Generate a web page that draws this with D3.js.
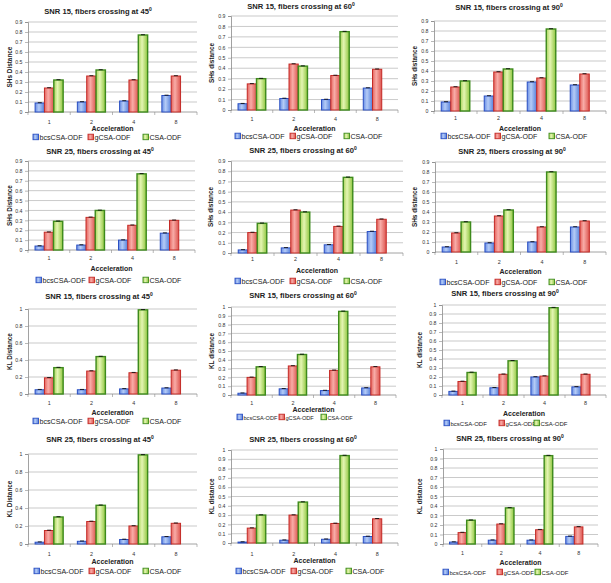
<!DOCTYPE html>
<html><head><meta charset="utf-8">
<script src="https://cdn.jsdelivr.net/npm/d3@7"></script>
<style>body{margin:0;background:#fff}svg{display:block}text{font-family:"Liberation Sans",Arial,sans-serif}</style>
</head><body>
<script>
// ---------- DATA ----------
const categories = ["1", "2", "4", "8"];
const seriesNames = ["bcsCSA-ODF", "gCSA-ODF", "CSA-ODF"];
const titleTexts = [
  "SNR 15, fibers crossing at 45", "SNR 15, fibers crossing at 60", "SNR 15, fibers crossing at 90",
  "SNR 25, fibers crossing at 45", "SNR 25, fibers crossing at 60", "SNR 25, fibers crossing at 90",
  "SNR 15, fibers crossing at 45", "SNR 15, fibers crossing at 60", "SNR 15, fibers crossing at 90",
  "SNR 25, fibers crossing at 45", "SNR 25, fibers crossing at 60", "SNR 25, fibers crossing at 90"
];
const titleSup = "0";
const yLabels = [
  "SHs Distance", "SHs distance", "SHs distance",
  "SHs Distance", "SHs distance", "SHs distance",
  "KL Distance", "KL distance", "KL distance",
  "KL Distance", "KL distance", "KL distance"
];
const xLabel = "Acceleration";
const yMaxes = [0.9, 0.9, 0.9, 0.9, 0.9, 0.9, 1, 1, 1, 1, 1, 1];
const yStepsV = [0.1, 0.1, 0.1, 0.1, 0.1, 0.1, 0.2, 0.1, 0.1, 0.2, 0.1, 0.1];
// values per panel, per acceleration (1,2,4,8)
const bcsValues = [
  [0.09, 0.10, 0.11, 0.165], [0.06, 0.11, 0.10, 0.21], [0.09, 0.15, 0.29, 0.26],
  [0.04, 0.05, 0.10, 0.17], [0.03, 0.05, 0.08, 0.21], [0.05, 0.09, 0.10, 0.25],
  [0.05, 0.05, 0.06, 0.07], [0.02, 0.07, 0.05, 0.08], [0.04, 0.08, 0.20, 0.09],
  [0.02, 0.03, 0.05, 0.08], [0.01, 0.03, 0.04, 0.07], [0.02, 0.04, 0.04, 0.08]
];
const gValues = [
  [0.24, 0.36, 0.32, 0.36], [0.25, 0.44, 0.33, 0.39], [0.24, 0.39, 0.33, 0.37],
  [0.18, 0.33, 0.25, 0.30], [0.20, 0.42, 0.26, 0.33], [0.19, 0.36, 0.25, 0.31],
  [0.19, 0.27, 0.25, 0.28], [0.20, 0.33, 0.28, 0.32], [0.15, 0.23, 0.21, 0.23],
  [0.15, 0.25, 0.20, 0.23], [0.16, 0.30, 0.21, 0.26], [0.12, 0.21, 0.15, 0.18]
];
const csaValues = [
  [0.32, 0.42, 0.77, null], [0.30, 0.42, 0.75, null], [0.30, 0.42, 0.82, null],
  [0.29, 0.40, 0.77, null], [0.29, 0.40, 0.74, null], [0.30, 0.42, 0.80, null],
  [0.31, 0.44, 0.99, null], [0.32, 0.46, 0.95, null], [0.25, 0.38, 0.97, null],
  [0.30, 0.43, 0.99, null], [0.30, 0.44, 0.94, null], [0.25, 0.38, 0.93, null]
];

// ---------- LAYOUT ----------
const layout = [
  {l:28,t:22,r:197,b:112, tx:98, ty:11, cy:122, ay:128, ly:137, ylx:10, lx:[33,88,143], lf:7.1},
  {l:231,t:16,r:398,b:110, tx:301, ty:6, cy:119, ay:128, ly:136, ylx:212, lx:[235,290,344], lf:7.1},
  {l:434,t:21,r:606,b:111, tx:509, ty:7, cy:118, ay:128, ly:136, ylx:415, lx:[441,495,549], lf:7.1},
  {l:28,t:161,r:195,b:250, tx:100, ty:151, cy:258, ay:268, ly:280, ylx:10, lx:[36,89,143], lf:7.1},
  {l:231,t:161,r:403,b:253, tx:303, ty:150, cy:259, ay:270, ly:281, ylx:211, lx:[235,290,344], lf:7.1},
  {l:435,t:162,r:606,b:252, tx:512, ty:151, cy:262, ay:271, ly:282, ylx:415, lx:[440,495,549], lf:7.1},
  {l:28,t:309,r:197,b:394, tx:99, ty:296, cy:403, ay:412, ly:421, ylx:10, lx:[33,88,143], lf:7.1},
  {l:231,t:307,r:396,b:395, tx:303, ty:295, cy:403, ay:409, ly:417, ylx:212, lx:[237,279,321], lf:5.6},
  {l:442,t:305,r:606,b:395, tx:505, ty:293, cy:403, ay:413, ly:423, ylx:420, lx:[444,499,534], lf:6},
  {l:28,t:454,r:197,b:544, tx:100, ty:439, cy:554, ay:561, ly:571, ylx:10, lx:[34,89,143], lf:7.1},
  {l:231,t:450,r:398,b:543, tx:303, ty:439, cy:554, ay:560, ly:571, ylx:212, lx:[236,291,346], lf:7.1},
  {l:443,t:449,r:598,b:544, tx:510, ty:438, cy:553, ay:562, ly:572, ylx:420, lx:[443,497,535], lf:6}
];
const fillIds = ["gBlue", "gRed", "gGreen"];
const strokes = ["#2a4fc2", "#c42a26", "#3d8a1c"];
const strokeW = [1, 1, 1.4];

const svg = d3.select("body").append("svg").attr("width", 611).attr("height", 583);
svg.append("rect").attr("width", 611).attr("height", 583).attr("fill", "#fff");
const defs = svg.append("defs");
const grads = [
  ["gBlue", ["#6a8fe6", "#b4cbf6", "#5580dc"]],
  ["gRed", ["#e5645e", "#f8aca7", "#dc544e"]],
  ["gGreen", ["#a9d45a", "#e4f5b2", "#8fc640"]]
];
grads.forEach(([id, c]) => {
  const g = defs.append("linearGradient").attr("id", id).attr("x1", 0).attr("x2", 1).attr("y1", 0).attr("y2", 0);
  g.append("stop").attr("offset", "0%").attr("stop-color", c[0]);
  g.append("stop").attr("offset", "40%").attr("stop-color", c[1]);
  g.append("stop").attr("offset", "100%").attr("stop-color", c[2]);
});

const fmt = d => String(+d.toFixed(1));

layout.forEach((L, i) => {
  const g = svg.append("g");
  const yMax = yMaxes[i], step = yStepsV[i];
  const y = d3.scaleLinear().domain([0, yMax]).range([L.b, L.t]);
  const x0 = d3.scaleBand().domain(categories).range([L.l, L.r]).padding(0);
  const x1 = d3.scaleBand().domain(seriesNames).range([0, x0.bandwidth()]).paddingInner(0).paddingOuter(0.76);
  const ticks = d3.range(0, Math.round(yMax / step) + 1).map(k => +(k * step).toFixed(2));

  // gridlines
  g.selectAll("line.grid").data(ticks.filter(d => d > 0)).enter().append("line")
    .attr("x1", L.l).attr("x2", L.r).attr("y1", d => y(d)).attr("y2", d => y(d))
    .attr("stroke", "#a6a6a6").attr("stroke-width", 0.6);

  // y axis
  const ya = g.append("g").attr("transform", `translate(${L.l},0)`)
    .call(d3.axisLeft(y).tickValues(ticks).tickFormat(fmt).tickSize(3).tickPadding(2.5));
  ya.select(".domain").attr("stroke", "#8a8a8a").attr("stroke-width", 0.8);
  ya.selectAll(".tick line").attr("stroke", "#8a8a8a").attr("stroke-width", 0.6);
  ya.selectAll("text").attr("font-size", 5.2).attr("fill", "#333").attr("font-family", "Liberation Sans, Arial, sans-serif");

  // x axis line and boundary ticks
  g.append("line").attr("x1", L.l).attr("x2", L.r).attr("y1", L.b).attr("y2", L.b)
    .attr("stroke", "#8a8a8a").attr("stroke-width", 0.8);
  const bounds = categories.map(c => x0(c)).concat([x0(categories[categories.length - 1]) + x0.bandwidth()]);
  g.selectAll("line.xt").data(bounds).enter().append("line")
    .attr("x1", d => d).attr("x2", d => d).attr("y1", L.b).attr("y2", L.b + 3)
    .attr("stroke", "#8a8a8a").attr("stroke-width", 0.6);
  g.selectAll("text.cat").data(categories).enter().append("text")
    .attr("x", d => x0(d) + x0.bandwidth() / 2).attr("y", L.cy + 2)
    .attr("text-anchor", "middle").attr("font-size", 5.4).attr("fill", "#333").text(d => d);

  // bars
  const rows = [];
  categories.forEach((c, j) => {
    [bcsValues[i][j], gValues[i][j], csaValues[i][j]].forEach((v, s) => {
      if (v !== null && v !== undefined) rows.push({c, s, v});
    });
  });
  g.selectAll("rect.bar").data(rows).enter().append("rect")
    .attr("x", d => x0(d.c) + x1(seriesNames[d.s]))
    .attr("y", d => y(d.v))
    .attr("width", x1.bandwidth())
    .attr("height", d => y(0) - y(d.v))
    .attr("fill", d => `url(#${fillIds[d.s]})`)
    .attr("stroke", d => strokes[d.s])
    .attr("stroke-width", d => strokeW[d.s]);
  // error caps
  g.selectAll("line.err").data(rows).enter().append("line")
    .attr("x1", d => x0(d.c) + x1(seriesNames[d.s]) + x1.bandwidth() / 2 - 2)
    .attr("x2", d => x0(d.c) + x1(seriesNames[d.s]) + x1.bandwidth() / 2 + 2)
    .attr("y1", d => y(d.v) - 0.3).attr("y2", d => y(d.v) - 0.3)
    .attr("stroke", "#111").attr("stroke-width", 0.9);

  // title
  const tt = g.append("text").attr("x", L.tx).attr("y", L.ty + 3).attr("text-anchor", "middle")
    .attr("font-size", 7.6).attr("font-weight", "bold").attr("fill", "#222");
  tt.append("tspan").text(titleTexts[i]);
  tt.append("tspan").attr("dy", -3).attr("font-size", 5).text(titleSup);

  // y label
  g.append("text").attr("transform", `translate(${L.ylx + 2},${(L.t + L.b) / 2}) rotate(-90)`)
    .attr("text-anchor", "middle").attr("font-size", 6.4).attr("font-weight", "bold").attr("fill", "#222")
    .text(yLabels[i]);

  // x label
  g.append("text").attr("x", (L.l + L.r) / 2).attr("y", L.ay + 2.5).attr("text-anchor", "middle")
    .attr("font-size", 7).attr("font-weight", "bold").attr("fill", "#222").text(xLabel);

  // legend
  seriesNames.forEach((n, s) => {
    g.append("rect").attr("x", L.lx[s]).attr("y", L.ly - 2.8).attr("width", 5.5).attr("height", 5.5)
      .attr("fill", `url(#${fillIds[s]})`).attr("stroke", strokes[s]).attr("stroke-width", 0.9);
    g.append("text").attr("x", L.lx[s] + 6.5).attr("y", L.ly + 2.5).attr("font-size", L.lf)
      .attr("fill", "#222").text(n);
  });
});
</script>
</body></html>
